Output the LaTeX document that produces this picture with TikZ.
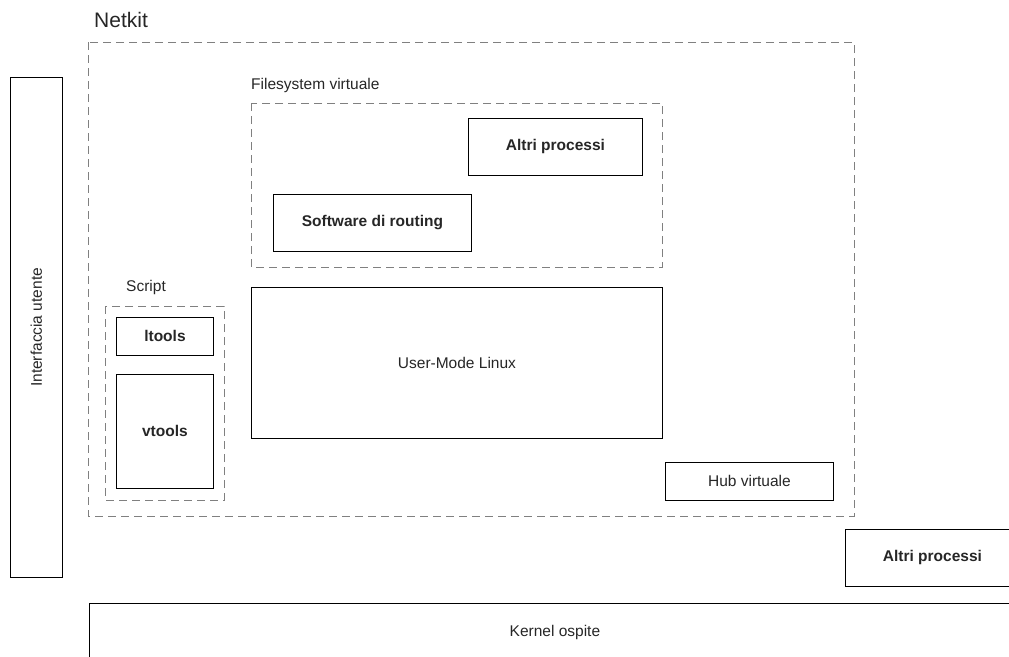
\documentclass[tikz,border=0pt]{standalone}
\usepackage{fontspec}
\setmainfont{Liberation Sans}
\begin{document}
\begin{tikzpicture}[x=1pt,y=-1pt,
  box/.style={draw=black, line width=0.9pt, inner sep=0pt, anchor=north west, text=black!85, font=\fontsize{15.5}{18}\selectfont},
  bbox/.style={box, font=\fontsize{15.5}{18}\selectfont\bfseries},
  group/.style={draw=black!50, line width=0.9pt, dash pattern=on 8pt off 5pt},
  lbl/.style={anchor=base west, inner sep=0pt, text=black!85, font=\fontsize{15.5}{18}\selectfont}
]
\useasboundingbox (0,0) rectangle (1009,656);
\clip (0,0) rectangle (1009,656);

% Netkit
\node[lbl, font=\fontsize{21}{24}\selectfont] (netkitlbl) at (94,27) {Netkit};
\draw[group] (88,42) rectangle (854,516);

% Interfaccia utente
\node[box, minimum width=52pt, minimum height=500pt] (ui) at (10,77) {};
\node[rotate=90, text=black!85, font=\fontsize{15.5}{18}\selectfont] (uitext) at (ui.center) {Interfaccia utente};

% Filesystem virtuale
\node[lbl] (fslbl) at (251,89) {Filesystem virtuale};
\draw[group] (251,103) rectangle (662,267);
\node[bbox, minimum width=174pt, minimum height=57pt] (altri1) at (468,118) {Altri processi};
\node[bbox, minimum width=198pt, minimum height=57pt] (routing) at (273,194) {Software di routing};

% User-Mode Linux
\node[box, minimum width=411pt, minimum height=151pt] (uml) at (251,287) {User-Mode Linux};

% Script
\node[lbl] (scriptlbl) at (126,291) {Script};
\draw[group] (105,306) rectangle (224,500);
\node[bbox, minimum width=97pt, minimum height=38pt] (ltools) at (116,317) {ltools};
\node[bbox, minimum width=97pt, minimum height=114pt] (vtools) at (116,374) {vtools};

% Hub virtuale
\node[box, minimum width=168pt, minimum height=38pt] (hub) at (665,462) {Hub virtuale};

% Altri processi (host)
\node[bbox, minimum width=174pt, minimum height=57pt] (altri2) at (845,529) {Altri processi};

% Kernel ospite
\node[box, minimum width=931pt, minimum height=59pt] (kernel) at (89,603) {Kernel ospite};
\end{tikzpicture}
\end{document}
